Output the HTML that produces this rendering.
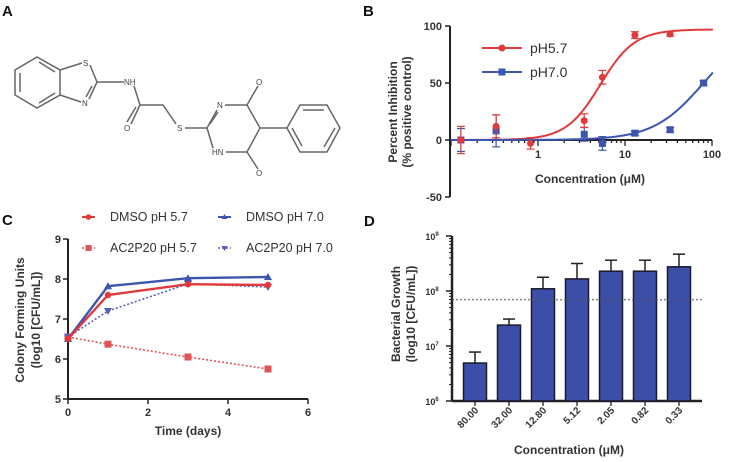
<!DOCTYPE html>
<html><head><meta charset="utf-8"><style>
body{margin:0;background:#fff}
svg{display:block;font-family:"Liberation Sans",Arial,sans-serif}
.t{font-size:11px;font-weight:bold;fill:#333}
.lab{font-size:12px;font-weight:bold;fill:#333}
.pl{font-size:15px;font-weight:bold;fill:#111}
.leg{font-size:12.5px;fill:#333}
.mol{stroke:#666;stroke-width:1.5;fill:none}
.at{font-size:8px;fill:#444}
</style></head><body>
<svg id="fig" width="729" height="462" viewBox="0 0 729 462">
<text class="pl" x="2" y="16">A</text>
<text class="pl" x="363" y="16">B</text>
<text class="pl" x="2" y="225">C</text>
<text class="pl" x="364" y="226">D</text>
<g>
<polygon class="mol" points="15,70 37,57 60,70 60,95 37,108 15,95"/>
<polyline class="mol" points="20,73 20,92"/><polyline class="mol" points="39,62 55,72"/><polyline class="mol" points="39,103 55,93"/>
<polyline class="mol" points="60,70 82,63"/><polyline class="mol" points="90,65 97,82 89,99"/><polyline class="mol" points="92,86 86,97"/><polyline class="mol" points="81,102 60,95"/>
<polyline class="mol" points="97,82 124,82"/><polyline class="mol" points="134,86 140,105 163,105 176,124"/>
<polyline class="mol" points="140,105 131,124"/><polyline class="mol" points="136,107 127,122"/>
<polyline class="mol" points="185,128 207,128 217,110"/><polyline class="mol" points="210,124 218,112"/>
<polyline class="mol" points="225,105 247,105 258,86"/><polyline class="mol" points="247,105 260,128 247,152 226,152"/><polyline class="mol" points="213,148 207,128"/>
<polyline class="mol" points="247,152 258,169"/><polyline class="mol" points="260,128 287,128"/>
<polygon class="mol" points="287,128 300,105 327,105 340,128 327,152 300,152"/>
<polyline class="mol" points="303,110 324,110"/><polyline class="mol" points="335,128 324,147"/><polyline class="mol" points="292,128 302,146"/>
<text class="at" x="83" y="66">S</text><text class="at" x="82" y="106">N</text><text class="at" x="124" y="85">NH</text>
<text class="at" x="124" y="131">O</text><text class="at" x="177" y="131">S</text><text class="at" x="217" y="108">N</text>
<text class="at" x="256" y="85">O</text><text class="at" x="212" y="155">HN</text><text class="at" x="256" y="176">O</text>
</g>
<g id="pb"></g>
<g id="pc"></g>
<g id="pd"></g>
</svg>
<script>
// Panel B data
const bConc = [0.13, 0.33, 0.82, 3.4, 5.5, 13, 33, 80];
const bRed = [0, 12, -3, 17, 55, 92, 93, null];
const bRedErr = [12, 10, 5, 6, 6, 3, 2, 0];
const bBlue = [0, 8, null, 5, -3, 6, 9, 50];
const bBlueErr = [10, 14, 0, 6, 6, 2, 2, 2];
const bYTicks = [100, 50, 0, -50];
const bXTicks = [1, 10, 100];
// Panel C data
const cDays = [0, 1, 3, 5];
const cDmso57 = [6.5, 7.6, 7.87, 7.85];
const cDmso70 = [6.5, 7.82, 8.02, 8.05];
const cAc57 = [6.55, 6.37, 6.05, 5.75];
const cAc70 = [6.55, 7.2, 7.88, 7.8];
const cYTicks = [5, 6, 7, 8, 9];
const cXTicks = [0, 2, 4, 6];
// Panel D data
const dCats = ["80.00", "32.00", "12.80", "5.12", "2.05", "0.82", "0.33"];
const dLog = [6.69, 7.38, 8.04, 8.22, 8.36, 8.36, 8.44];
const dErrTop = [6.89, 7.49, 8.25, 8.5, 8.56, 8.56, 8.67];
const dThreshold = 7.84;
const dYExp = [6, 7, 8, 9];

const NS = "http://www.w3.org/2000/svg";
function mk(parent, tag, attrs, text){const e=document.createElementNS(NS,tag);for(const k in attrs)e.setAttribute(k,attrs[k]);if(text!==undefined)e.textContent=text;parent.appendChild(e);return e;}
const RED="#e03a3a", BLUE="#3b55b0";

// ---------- Panel B ----------
(function(){
const g=document.getElementById('pb');
const bx=c=>538+87*Math.log10(c);
const by=v=>140-1.14*v;
let e=mk(g,'line',{x1:450,y1:by(100),x2:450,y2:by(-50),stroke:'#222','stroke-width':2});

e=mk(g,'line',{x1:450,y1:140,x2:bx(100),y2:140,stroke:'#222','stroke-width':2});

bYTicks.forEach(v=>{mk(g,'line',{x1:445,y1:by(v),x2:450,y2:by(v),stroke:'#222','stroke-width':1.5});
 e=mk(g,'text',{class:'t',x:442,y:by(v)+4,'text-anchor':'end'},v);
 });
for(let d=0.1;d<100;d*=10){for(let k=1;k<10;k++){const x=bx(d*k);mk(g,'line',{x1:x,y1:140,x2:x,y2:140+(k==1?6:3),stroke:'#222','stroke-width':1.3});}}
mk(g,'line',{x1:bx(100),y1:140,x2:bx(100),y2:146,stroke:'#222','stroke-width':1.3});
bXTicks.forEach(v=>{e=mk(g,'text',{class:'t',x:bx(v),y:158,'text-anchor':'middle'},v);
 });
e=mk(g,'text',{class:'lab',x:590,y:183,'text-anchor':'middle'},'Concentration (\u03bcM)');

e=mk(g,'text',{class:'lab',transform:'translate(397,112) rotate(-90)','text-anchor':'middle'},'Percent Inhibition');

e=mk(g,'text',{class:'lab',transform:'translate(411,112) rotate(-90)','text-anchor':'middle'},'(% positive control)');

function curve(top,ec,h,col,name){let d='';for(let i=0;i<=200;i++){const lc=-1+i*3.01/200;const c=Math.pow(10,lc);const v=top/(1+Math.pow(ec/c,h));d+=(i?'L':'M')+bx(c).toFixed(1)+','+by(v).toFixed(1);}
 const p=mk(g,'path',{d:d,fill:'none',stroke:col,'stroke-width':2});}
curve(97,5.2,2.2,RED,'ph57-fit-curve');curve(100,80,1.5,BLUE,'ph70-fit-curve');
function pts(vals,errs,col,shape,name){vals.forEach((v,i)=>{if(v===null)return;const x=bx(bConc[i]),y=by(v);
 mk(g,'line',{x1:x,y1:by(v+errs[i]),x2:x,y2:by(v-errs[i]),stroke:col,'stroke-width':1.2});
 mk(g,'line',{x1:x-4,y1:by(v+errs[i]),x2:x+4,y2:by(v+errs[i]),stroke:col,'stroke-width':1.2});
 mk(g,'line',{x1:x-4,y1:by(v-errs[i]),x2:x+4,y2:by(v-errs[i]),stroke:col,'stroke-width':1.2});
 const m=shape=='c'?mk(g,'circle',{cx:x,cy:y,r:3.5,fill:col}):mk(g,'rect',{x:x-3.5,y:y-3.5,width:7,height:7,fill:col});
 });}
pts(bBlue,bBlueErr,BLUE,'s','ph70-point');pts(bRed,bRedErr,RED,'c','ph57-point');
mk(g,'line',{x1:482,y1:48,x2:522,y2:48,stroke:RED,'stroke-width':2});mk(g,'circle',{cx:502,cy:48,r:3.5,fill:RED});
e=mk(g,'text',{class:'leg',x:530,y:53,style:'font-size:14px'},'pH5.7');
mk(g,'line',{x1:482,y1:72,x2:522,y2:72,stroke:BLUE,'stroke-width':2});mk(g,'rect',{x:498.5,y:68.5,width:7,height:7,fill:BLUE});
e=mk(g,'text',{class:'leg',x:530,y:77,style:'font-size:14px'},'pH7.0');
})();

// ---------- Panel C ----------
(function(){
const g=document.getElementById('pc');
const cx=d=>68+40*d, cy=v=>399-40*(v-5);
let e=mk(g,'line',{x1:68,y1:cy(9),x2:68,y2:399,stroke:'#222','stroke-width':2});
e=mk(g,'line',{x1:68,y1:399,x2:cx(6),y2:399,stroke:'#222','stroke-width':2});
cYTicks.forEach(v=>{mk(g,'line',{x1:63,y1:cy(v),x2:68,y2:cy(v),stroke:'#222','stroke-width':1.5});
 e=mk(g,'text',{class:'t',x:61,y:cy(v)+4,'text-anchor':'end'},v);});
cXTicks.forEach(v=>{mk(g,'line',{x1:cx(v),y1:399,x2:cx(v),y2:404,stroke:'#222','stroke-width':1.5});
 e=mk(g,'text',{class:'t',x:cx(v),y:416,'text-anchor':'middle'},v);});
e=mk(g,'text',{class:'lab',x:188,y:435,'text-anchor':'middle'},'Time (days)');
e=mk(g,'text',{class:'lab',transform:'translate(24,320) rotate(-90)','text-anchor':'middle'},'Colony Forming Units');
e=mk(g,'text',{class:'lab',transform:'translate(40,320) rotate(-90)','text-anchor':'middle'},'(log10 [CFU/mL])');
function series(vals,col,dash,marker,name){const d=vals.map((v,i)=>(i?'L':'M')+cx(cDays[i])+','+cy(v)).join('');
 const p=mk(g,'path',{d:d,fill:'none',stroke:col,'stroke-width':dash?1.6:2.4,'stroke-dasharray':dash?'2,2':'none'});
 vals.forEach((v,i)=>{const x=cx(cDays[i]),y=cy(v);let m;
  if(marker=='c')m=mk(g,'circle',{cx:x,cy:y,r:3.2,fill:col});
  else if(marker=='s')m=mk(g,'rect',{x:x-3.5,y:y-3.5,width:7,height:7,fill:col});
  else if(marker=='t')m=mk(g,'path',{d:`M${x},${y-4}L${x+4},${y+3}L${x-4},${y+3}Z`,fill:col});
  else m=mk(g,'path',{d:`M${x},${y+4}L${x+4},${y-3}L${x-4},${y-3}Z`,fill:col});
  });}
series(cAc57,'#e05555',true,'s','ac2p20-ph57-line');series(cAc70,'#5560b8',true,'v','ac2p20-ph70-line');
series(cDmso70,BLUE,false,'t','dmso-ph70-line');series(cDmso57,RED,false,'c','dmso-ph57-line');
function leg(x,y,col,dash,marker,label,name){mk(g,'line',{x1:x,y1:y,x2:x+13,y2:y,stroke:col,'stroke-width':dash?1.5:2,'stroke-dasharray':dash?'2,2':'none'});
 if(marker=='c')mk(g,'circle',{cx:x+6.5,cy:y,r:2.8,fill:col});else if(marker=='s')mk(g,'rect',{x:x+3.5,y:y-3,width:6,height:6,fill:col});
 else if(marker=='t')mk(g,'path',{d:`M${x+6.5},${y-3}L${x+9.5},${y+2}L${x+3.5},${y+2}Z`,fill:col});else mk(g,'path',{d:`M${x+6.5},${y+3}L${x+9.5},${y-2}L${x+3.5},${y-2}Z`,fill:col});
 const t=mk(g,'text',{class:'leg',x:x+28,y:y+4},label);}
leg(82,217,RED,false,'c','DMSO pH 5.7','legend-dmso-ph57');leg(218,217,BLUE,false,'t','DMSO pH 7.0','legend-dmso-ph70');
leg(82,248,'#e05555',true,'s','AC2P20 pH 5.7','legend-ac2p20-ph57');leg(218,248,'#5560b8',true,'v','AC2P20 pH 7.0','legend-ac2p20-ph70');
})();

// ---------- Panel D ----------
(function(){
const g=document.getElementById('pd');
const dy=l=>401-55*(l-6);const dx=i=>475+34*i;
let e=mk(g,'line',{x1:452,y1:dy(9),x2:452,y2:401,stroke:'#222','stroke-width':2.5});
e=mk(g,'line',{x1:452,y1:401,x2:702,y2:401,stroke:'#222','stroke-width':2.5});
dYExp.forEach(p=>{mk(g,'line',{x1:446,y1:dy(p),x2:452,y2:dy(p),stroke:'#222','stroke-width':1.5});
 for(let k=2;k<10&&p<9;k++){const y=dy(p+Math.log10(k));mk(g,'line',{x1:449,y1:y,x2:452,y2:y,stroke:'#222','stroke-width':1});}
 e=mk(g,'text',{class:'t',x:432,y:dy(p)+4,'text-anchor':'middle',style:'font-size:9px'});
 e.textContent='10';mk(e,'tspan',{dy:-4,style:'font-size:6px'},p);});
dLog.forEach((v,i)=>{const x=dx(i);
 mk(g,'line',{x1:x,y1:dy(v),x2:x,y2:dy(dErrTop[i]),stroke:'#222','stroke-width':1.5});
 mk(g,'line',{x1:x-6,y1:dy(dErrTop[i]),x2:x+6,y2:dy(dErrTop[i]),stroke:'#222','stroke-width':1.5});
 const b=mk(g,'rect',{x:x-11.5,y:dy(v),width:23,height:401-dy(v),fill:'#3c4fa8',stroke:'#1a1a2a','stroke-width':1.5});
 
 mk(g,'line',{x1:x,y1:401,x2:x,y2:406,stroke:'#222','stroke-width':1.3});
 const t=mk(g,'text',{class:'t',transform:`translate(${x+4},${411}) rotate(-45)`,'text-anchor':'end',style:'font-size:10px'},dCats[i]);
 });
e=mk(g,'line',{x1:452,y1:dy(dThreshold),x2:702,y2:dy(dThreshold),stroke:'#555','stroke-width':1,'stroke-dasharray':'2,2'});

e=mk(g,'text',{class:'lab',x:569,y:454,'text-anchor':'middle'},'Concentration (\u03bcM)');
e=mk(g,'text',{class:'lab',transform:'translate(400,314) rotate(-90)','text-anchor':'middle'},'Bacterial Growth');
e=mk(g,'text',{class:'lab',transform:'translate(415,314) rotate(-90)','text-anchor':'middle'},'(log10 [CFU/mL])');
})();
</script>
</body></html>
